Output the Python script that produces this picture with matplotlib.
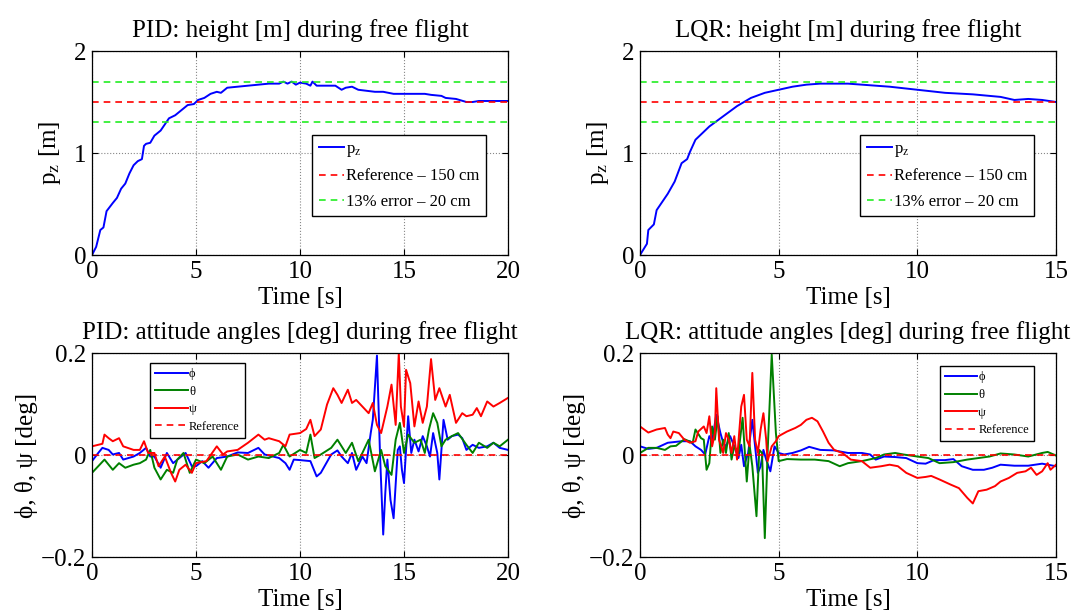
import numpy as np
import matplotlib.pyplot as plt

plt.rcParams['font.family'] = ['Liberation Serif', 'DejaVu Serif']
plt.rcParams['mathtext.fontset'] = 'stix'

# ---- data ----
# PID height
t_pid_h = [0, 0.2, 0.4, 0.55, 0.7, 0.85, 1.0, 1.2, 1.4, 1.6, 1.8, 2.0, 2.2, 2.4, 2.5,
           2.6, 2.8, 3.0, 3.3, 3.5, 3.7, 4.0, 4.3, 4.6, 4.9, 5.1, 5.4, 5.7, 6.0, 6.2,
           6.5, 7.0, 7.5, 8.0, 8.5, 9.0, 9.2, 9.4, 9.6, 9.8, 10.0, 10.3, 10.5, 10.6,
           10.8, 11.2, 11.7, 12.0, 12.2, 12.5, 12.8, 13.2, 13.6, 14.0, 14.5, 15.0,
           15.5, 16.0, 16.3, 16.8, 17.0, 17.5, 18.0, 18.3, 18.6, 19.0, 19.5, 20.0]
pz_pid = [0, 0.08, 0.245, 0.27, 0.43, 0.47, 0.51, 0.56, 0.65, 0.70, 0.80, 0.88, 0.92, 0.94,
          1.07, 1.09, 1.10, 1.17, 1.22, 1.28, 1.34, 1.37, 1.42, 1.47, 1.48, 1.52, 1.54,
          1.58, 1.60, 1.59, 1.64, 1.65, 1.66, 1.67, 1.68, 1.68, 1.70, 1.68, 1.70, 1.67,
          1.69, 1.68, 1.66, 1.70, 1.66, 1.66, 1.66, 1.62, 1.64, 1.65, 1.62, 1.61, 1.60,
          1.60, 1.58, 1.58, 1.58, 1.58, 1.57, 1.56, 1.54, 1.53, 1.50, 1.50, 1.51, 1.51,
          1.51, 1.51]

# LQR height
t_lqr_h = [0, 0.25, 0.3, 0.5, 0.6, 1.0, 1.25, 1.5, 1.7, 1.8, 2.0, 2.5, 3.0, 3.5, 4.0,
           4.5, 5.0, 5.5, 6.0, 6.5, 7.0, 7.5, 8.0, 9.0, 10.0, 11.0, 12.0, 13.0, 13.5,
           14.0, 14.5, 15.0]
pz_lqr = [0, 0.11, 0.245, 0.30, 0.44, 0.60, 0.72, 0.90, 0.94, 1.01, 1.13, 1.26, 1.36,
          1.46, 1.54, 1.59, 1.62, 1.65, 1.67, 1.68, 1.68, 1.68, 1.67, 1.65, 1.62, 1.59,
          1.575, 1.55, 1.52, 1.53, 1.52, 1.50]

h_ref = 1.5
h_band = [1.3, 1.7]

# PID attitude angles
t_pid_psi = [0, 0.5, 0.6, 0.8, 1.0, 1.3, 1.5, 2.0, 2.3, 2.5, 2.7, 3.0, 3.2, 3.5, 3.8, 4.0,
             4.2, 4.5, 4.8, 5.0, 5.5, 6.0, 6.3, 6.5, 7.0, 7.5, 8.0, 8.3, 8.5, 9.0, 9.3,
             9.5, 10.0, 10.3, 10.5, 10.7, 11.0, 11.3, 11.6, 11.8, 12.0, 12.3, 12.5, 12.7,
             13.0, 13.3, 13.5, 13.7, 13.9, 14.2, 14.4, 14.6, 14.75, 14.85, 15.0, 15.1,
             15.3, 15.5, 15.7, 15.9, 16.1, 16.3, 16.5, 16.7, 17.0, 17.2, 17.5, 17.8, 18.0,
             18.3, 18.5, 18.7, 19.0, 19.3, 19.6, 20.0]
psi_pid = [0.017, 0.022, 0.040, 0.033, 0.027, 0.033, 0.017, 0.010, 0.010, 0.027, 0.004,
           0.004, -0.022, -0.003, -0.035, -0.052, -0.029, -0.019, -0.035, -0.016, -0.012,
           0.017, 0.001, 0.007, 0.010, 0.024, 0.040, 0.030, 0.033, 0.027, 0.017, 0.040,
           0.043, 0.051, 0.069, 0.037, 0.050, 0.099, 0.131, 0.118, 0.102, 0.128, 0.102,
           0.108, 0.095, 0.082, 0.102, 0.059, 0.043, 0.095, 0.138, 0.059, 0.200, 0.095,
           0.056, 0.167, 0.141, 0.056, 0.105, 0.063, 0.095, 0.188, 0.108, 0.131, 0.095,
           0.118, 0.063, 0.082, 0.076, 0.079, 0.092, 0.076, 0.105, 0.095, 0.102, 0.112]

t_pid_phi = [0, 0.3, 0.5, 0.8, 1.0, 1.3, 1.5, 2.0, 2.3, 2.6, 2.8, 3.0, 3.3, 3.6, 3.9, 4.2,
             4.5, 4.8, 5.0, 5.3, 5.6, 6.0, 6.5, 7.0, 7.5, 8.0, 8.3, 8.7, 9.0, 9.3, 9.5,
             9.7, 10.0, 10.5, 10.8, 11.0, 11.5, 11.8, 12.0, 12.3, 12.5, 12.7, 13.0, 13.2,
             13.4, 13.5, 13.7, 13.85, 14.0, 14.1, 14.2, 14.35, 14.5, 14.7, 14.8, 14.9,
             15.0, 15.2, 15.35, 15.5, 15.7, 15.9, 16.1, 16.25, 16.4, 16.6, 16.7, 16.9,
             17.1, 17.3, 17.6, 17.8, 18.0, 18.3, 18.6, 19.0, 19.3, 19.6, 20.0]
phi_pid = [-0.012, 0.004, 0.014, 0.010, 0.001, 0.004, -0.009, -0.003, 0.004, 0.014,
           -0.003, -0.003, -0.025, 0.004, -0.016, -0.006, 0.004, -0.022, -0.022, -0.012,
           -0.025, -0.006, -0.003, 0.005, 0.004, 0.014, 0.001, -0.003, -0.006, -0.016,
           -0.029, -0.009, -0.010, -0.012, -0.042, -0.035, 0.001, 0.009, -0.003, -0.016,
           0.004, -0.029, -0.003, -0.016, 0.043, 0.069, 0.195, -0.003, -0.156, -0.075,
           -0.009, -0.088, -0.124, 0.010, 0.017, -0.029, -0.055, 0.076, 0.004, 0.030,
           0.007, 0.037, 0.017, -0.003, 0.043, 0.004, -0.048, 0.069, 0.030, 0.037, 0.040,
           0.033, 0.010, 0.020, 0.014, 0.017, 0.024, 0.014, 0.010]

t_pid_theta = [0, 0.3, 0.6, 1.0, 1.3, 1.6, 2.0, 2.3, 2.6, 2.8, 3.0, 3.3, 3.6, 3.9, 4.1,
               4.4, 4.7, 5.0, 5.4, 5.8, 6.2, 6.5, 7.0, 7.5, 8.0, 8.5, 9.0, 9.2, 9.5,
               10.0, 10.3, 10.5, 10.7, 11.0, 11.5, 11.8, 12.2, 12.5, 12.8, 13.0, 13.3,
               13.6, 13.9, 14.1, 14.4, 14.6, 14.8, 15.0, 15.2, 15.5, 15.8, 16.0, 16.2,
               16.4, 16.6, 16.8, 17.0, 17.3, 17.6, 18.0, 18.3, 18.6, 19.0, 19.3, 19.6, 20.0]
theta_pid = [-0.035, -0.022, -0.009, -0.029, -0.016, -0.025, -0.019, -0.016, -0.009,
             0.010, -0.025, -0.048, -0.029, -0.035, -0.009, 0.004, -0.035, -0.009,
             -0.016, -0.003, -0.029, -0.003, 0.001, -0.009, -0.003, -0.006, 0.004,
             0.020, -0.003, 0.010, 0.004, 0.040, -0.006, 0.001, 0.014, 0.030, 0.004,
             0.024, -0.012, 0.004, 0.030, -0.032, 0.010, -0.022, -0.039, 0.030, 0.063,
             0.004, 0.040, 0.024, 0.030, 0.004, 0.050, 0.082, 0.063, 0.017, 0.030,
             0.037, 0.043, 0.020, 0.004, 0.024, 0.014, 0.024, 0.017, 0.030]

# LQR attitude angles
t_lqr_psi = [0, 0.3, 0.6, 0.9, 1.0, 1.1, 1.2, 1.4, 1.6, 1.8, 2.0, 2.1, 2.3, 2.4, 2.5,
             2.6, 2.7, 2.75, 2.85, 3.0, 3.1, 3.2, 3.3, 3.4, 3.5, 3.65, 3.75, 3.85, 3.95,
             4.05, 4.15, 4.25, 4.35, 4.45, 4.55, 4.6, 4.75, 4.9, 5.0, 5.3, 5.6, 5.8, 6.0,
             6.2, 6.4, 6.6, 6.8, 7.0, 7.3, 7.6, 8.0, 8.3, 8.7, 9.0, 9.3, 9.6, 10.0, 10.3,
             10.5, 10.8, 11.2, 11.5, 11.8, 12.0, 12.2, 12.5, 12.8, 13.0, 13.3, 13.6,
             13.9, 14.1, 14.3, 14.5, 14.7, 14.8, 15.0]
psi_lqr = [0.056, 0.044, 0.050, 0.053, 0.040, 0.033, 0.046, 0.043, 0.030, 0.024, 0.027,
           0.046, 0.056, 0.043, 0.076, 0.017, 0.043, 0.131, 0.030, 0.004, 0.043, 0.030,
           0.004, 0.037, -0.009, 0.095, 0.118, 0.030, 0.017, 0.161, 0.030, 0.004, 0.050,
           0.082, 0.030, -0.012, 0.017, 0.027, 0.037, 0.046, 0.053, 0.059, 0.069, 0.073,
           0.066, 0.046, 0.024, 0.010, 0.004, -0.009, -0.012, -0.025, -0.022, -0.019,
           -0.022, -0.035, -0.045, -0.043, -0.041, -0.048, -0.058, -0.065, -0.084,
           -0.095, -0.071, -0.068, -0.061, -0.052, -0.045, -0.035, -0.032, -0.025,
           -0.039, -0.032, -0.016, -0.029, -0.019]

t_lqr_phi = [0, 0.3, 0.6, 1.0, 1.5, 1.8, 2.0, 2.2, 2.35, 2.5, 2.6, 2.75, 2.9, 3.0, 3.1,
             3.25, 3.4, 3.55, 3.65, 3.75, 3.9, 4.05, 4.15, 4.25, 4.35, 4.45, 4.55, 4.7,
             4.85, 5.0, 5.2, 5.5, 5.8, 6.1, 6.5, 7.0, 7.5, 8.0, 8.3, 8.5, 8.8, 9.2, 9.6,
             10.0, 10.3, 10.6, 11.0, 11.3, 11.6, 12.0, 12.4, 12.7, 13.0, 13.5, 14.0, 14.5,
             15.0]
phi_lqr = [0.017, 0.012, 0.014, 0.024, 0.027, 0.027, 0.017, 0.010, 0.001, 0.037, 0.027,
           0.079, 0.043, 0.024, 0.017, 0.037, 0.017, -0.006, 0.020, -0.022, 0.004, 0.069,
           0.017, -0.035, -0.022, 0.010, -0.009, -0.032, 0.017, 0.004, 0.001, 0.004,
           0.009, 0.016, 0.010, 0.009, 0.004, 0.004, 0.001, -0.009, -0.003, -0.004,
           -0.006, -0.016, -0.017, -0.010, -0.010, -0.008, -0.022, -0.029, -0.029,
           -0.025, -0.019, -0.021, -0.021, -0.017, -0.022]

t_lqr_theta = [0, 0.3, 0.6, 0.9, 1.1, 1.3, 1.6, 1.9, 2.0, 2.2, 2.3, 2.4, 2.5, 2.6, 2.7,
               2.8, 2.9, 3.0, 3.1, 3.2, 3.3, 3.4, 3.55, 3.7, 3.85, 3.95, 4.05, 4.2, 4.3,
               4.4, 4.5, 4.6, 4.75, 4.9, 5.0, 5.3, 5.8, 6.3, 6.8, 7.2, 7.5, 8.0, 8.5, 8.8,
               9.2, 9.5, 10.0, 10.4, 10.8, 11.3, 11.8, 12.2, 12.6, 13.0, 13.5, 14.0, 14.5,
               14.7, 15.0]
theta_lqr = [0.004, 0.014, 0.014, 0.010, 0.017, 0.018, 0.031, 0.024, 0.050, 0.033, 0.030,
             -0.029, -0.016, 0.056, 0.030, 0.076, 0.004, 0.030, 0.004, 0.043, -0.009,
             0.017, 0.004, 0.073, -0.052, 0.020, -0.022, -0.120, 0.010, 0.004, -0.163,
             0.004, 0.197, 0.043, -0.012, -0.008, -0.009, -0.009, -0.012, -0.022, -0.016,
             -0.012, -0.006, 0.001, 0.004, 0.001, -0.003, -0.006, -0.016, -0.014, -0.009,
             -0.006, -0.003, 0.003, 0.001, -0.003, 0.004, 0.006, -0.001]

BLUE = '#0000ff'
GREEN = '#008000'
RED = '#ff0000'
LIME = '#22ee22'


def style_axes(ax, xmax, yticks, ylim):
    ax.set_xlim(0, xmax)
    ax.set_ylim(*ylim)
    ax.set_xticks(np.arange(0, xmax + 1, 5))
    ax.set_yticks(yticks)
    ax.tick_params(direction='in', top=True, right=True, labelsize=18, length=4, pad=4)
    ax.grid(True, linestyle=':', color='#888888', linewidth=0.8)
    for s in ax.spines.values():
        s.set_linewidth(0.9)
    ax.set_xlabel('Time [s]', fontsize=18, labelpad=3)


fig = plt.figure(figsize=(10.9, 6.13), dpi=100)
W, H = 1090, 613
boxes = [(92, 51), (640, 51), (92, 353), (640, 353)]
axes = [fig.add_axes([x / W, 1 - (y + 204) / H, 416 / W, 204 / H]) for x, y in boxes]
ax1, ax2, ax3, ax4 = axes

# height plots
for ax, t, pz, tmax, name in [(ax1, t_pid_h, pz_pid, 20, 'PID'),
                               (ax2, t_lqr_h, pz_lqr, 15, 'LQR')]:
    ax.plot(t, pz, color=BLUE, lw=1.4, label='p$_\\mathrm{z}$')
    ax.axhline(h_ref, color=RED, ls='--', dashes=(4, 3), lw=1.2, label='Reference \u2013 150 cm')
    ax.axhline(h_band[0], color=LIME, ls='--', dashes=(4, 3), lw=1.2, label='13% error \u2013 20 cm')
    ax.axhline(h_band[1], color=LIME, ls='--', dashes=(4, 3), lw=1.2)
    style_axes(ax, tmax, [0, 1, 2], (0, 2))
    ax.set_ylabel('p$_\\mathrm{z}$ [m]', fontsize=18, labelpad=8)
    ax.set_title(name + ': height [m] during free flight', fontsize=18, pad=10)
    leg = ax.legend(loc='upper left', bbox_to_anchor=(0.53, 0.59), fontsize=12,
                    fancybox=False, edgecolor='black', framealpha=1, handlelength=1.5,
                    handletextpad=0.1, labelspacing=0.55, borderpad=0.4,
                    borderaxespad=0)
    leg.get_frame().set_linewidth(1.0)

# attitude plots
for ax, data, tmax, name, lpos in [
        (ax3, (t_pid_phi, phi_pid, t_pid_theta, theta_pid, t_pid_psi, psi_pid), 20, 'PID', (0.14, 0.951)),
        (ax4, (t_lqr_phi, phi_lqr, t_lqr_theta, theta_lqr, t_lqr_psi, psi_lqr), 15, 'LQR', (0.72, 0.935))]:
    tp, ph, tt, th, ts, ps = data
    ax.plot(tp, ph, color=BLUE, lw=1.4, label='\u03d5')
    ax.plot(tt, th, color=GREEN, lw=1.4, label='\u03b8')
    ax.plot(ts, ps, color=RED, lw=1.4, label='\u03c8')
    ax.axhline(0, color=RED, ls='--', dashes=(4, 3), lw=1.2, label='Reference')
    style_axes(ax, tmax, [-0.2, 0, 0.2], (-0.2, 0.2))
    ax.set_yticklabels(['\u22120.2', '0', '0.2'])
    ax.set_ylabel('\u03d5, \u03b8, \u03c8 [deg]', fontsize=18, labelpad=2)
    ax.set_title(name + ': attitude angles [deg] during free flight', fontsize=18, pad=10)
    leg = ax.legend(loc='upper left', bbox_to_anchor=lpos, fontsize=9,
                    fancybox=False, edgecolor='black', framealpha=1, handlelength=2.6,
                    handletextpad=0.1, labelspacing=0.45, borderpad=0.4,
                    borderaxespad=0)
    leg.get_frame().set_linewidth(1.0)

fig.savefig('out.png', dpi=100)
